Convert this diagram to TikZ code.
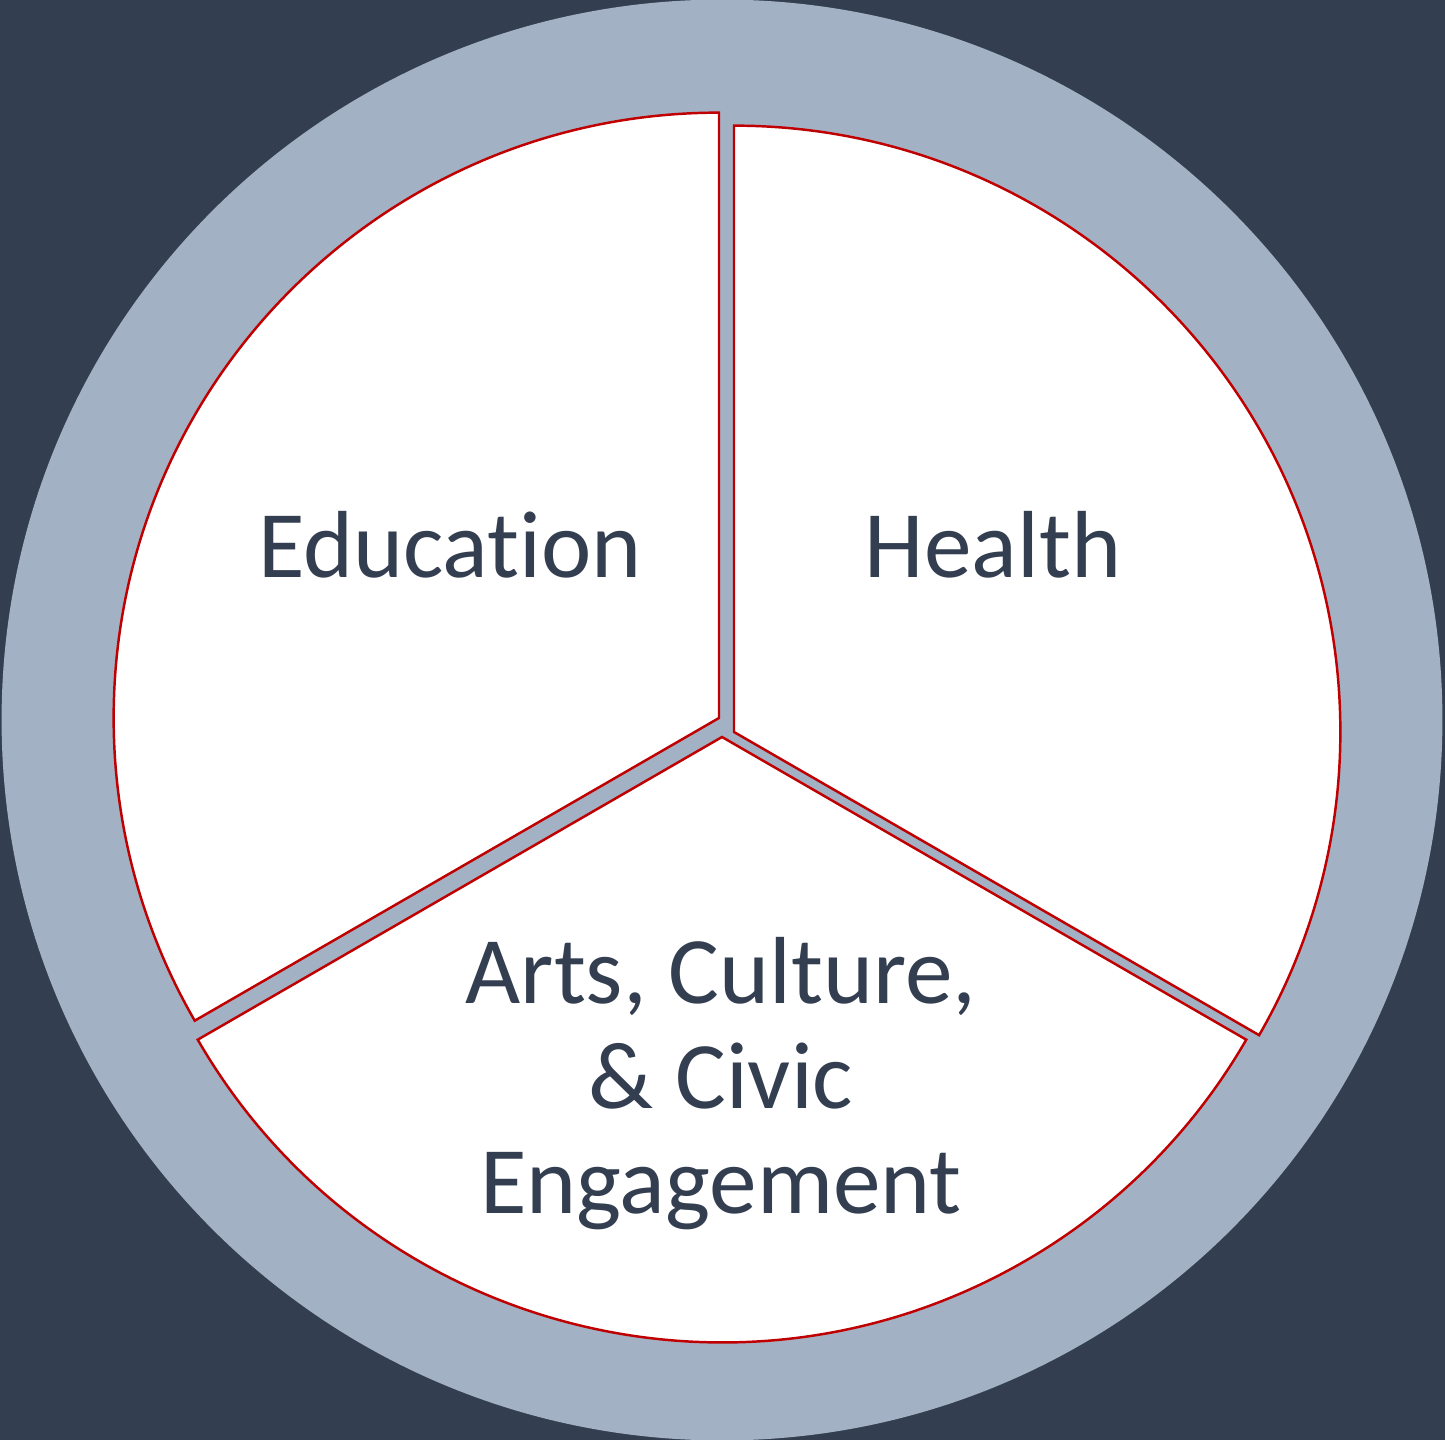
\documentclass[tikz,border=0pt]{standalone}
\usepackage{fontspec}
\setmainfont[Ligatures={NoCommon,NoRare}]{Carlito}
\definecolor{bgdark}{HTML}{333F50}
\definecolor{ringblue}{HTML}{A3B1C4}
\definecolor{edgered}{HTML}{C00000}
\definecolor{txt}{HTML}{333F50}
\tikzset{
  sector/.style={fill=white, draw=edgered, line width=0.7pt, line join=miter},
  lbl/.style={text=txt, font=\fontsize{27.1pt}{29.9pt}\selectfont, align=center, inner sep=0pt}
}
\begin{document}
\begin{tikzpicture}[x=0.01cm,y=0.01cm]
\useasboundingbox (0,0) rectangle (1445,-1440);
\fill[bgdark] (0,0) rectangle (1445,-1440);
\fill[ringblue] (722,-720) circle[radius=7.2cm];
% Education
\coordinate (ce) at (719,-718);
\path[sector] (ce) -- ++(90:6.05cm) arc[start angle=90, end angle=210, radius=6.05cm] -- cycle;
% Health
\coordinate (ch) at (734,-732);
\path[sector] (ch) -- ++(90:6.06cm) arc[start angle=90, end angle=-30, radius=6.06cm] -- cycle;
% Arts
\coordinate (ca) at (722,-737);
\path[sector] (ca) -- ++(210:6.05cm) arc[start angle=210, end angle=330, radius=6.05cm] -- cycle;
\node[lbl, anchor=base] (edu) at (450,-578) {Education};
\node[lbl, anchor=base] (hea) at (993,-578) {Health};
\node[lbl, anchor=base] (arts) at (721,-1003) {Arts, Culture,};
\node[lbl, anchor=base] (civ) at (721,-1108) {\& Civic};
\node[lbl, anchor=base] (eng) at (721,-1213) {Engagement};
\end{tikzpicture}
\end{document}
